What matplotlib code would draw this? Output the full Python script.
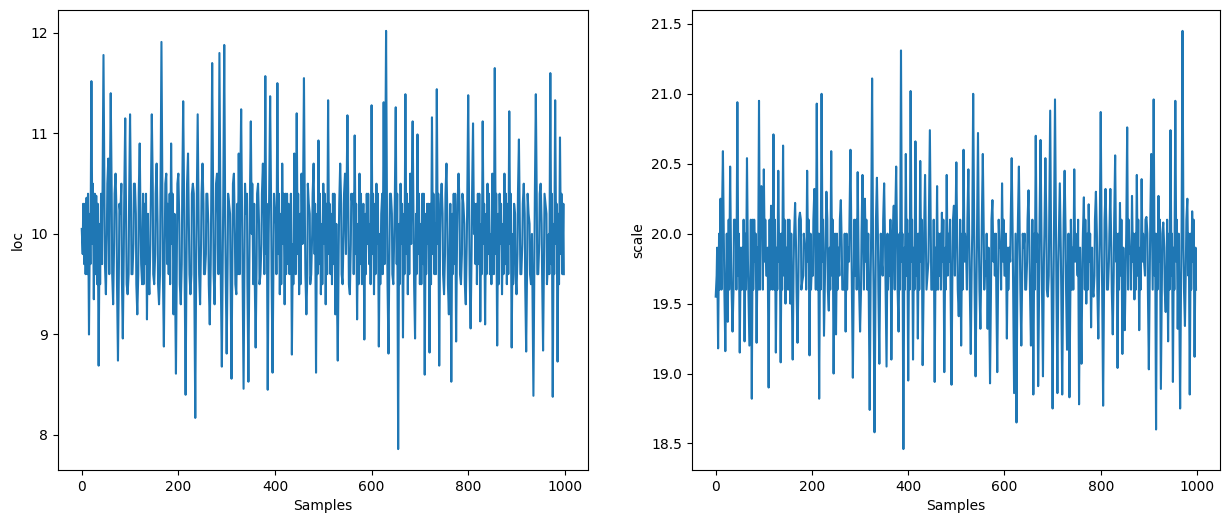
import matplotlib
matplotlib.use('Agg')
import matplotlib.pyplot as plt
import numpy as np

# trace values: peaks/troughs every 5th sample ...
loc_vals = [
    10.05, 9.7, 10.36, 9.0, 11.52, 9.35, 10.38, 8.69, 10.4, 11.78,
    9.4, 10.75, 11.4, 9.3, 10.6, 8.74, 10.2, 8.96, 11.15, 9.4,
    11.19, 9.6, 10.5, 9.2, 10.9, 9.5, 10.3, 9.15, 9.4, 11.19,
    9.5, 10.7, 9.3, 11.91, 8.88, 10.6, 9.6, 10.9, 9.2, 8.61,
    10.6, 9.3, 11.32, 8.4, 10.8, 9.4, 10.5, 8.17, 11.19, 9.3,
    10.7, 9.6, 10.4, 9.1, 11.7, 9.3, 10.6, 11.8, 8.68, 11.88,
    8.81, 10.3, 8.56, 10.6, 9.4, 10.8, 11.24, 8.46, 10.2, 8.53,
    11.12, 9.5, 8.87, 10.5, 9.6, 10.7, 11.57, 8.45, 11.37, 8.62,
    10.2, 11.5, 9.4, 10.7, 9.3, 10.4, 9.6, 8.8, 10.8, 11.2,
    9.4, 10.6, 11.55, 9.2, 10.3, 9.6, 10.7, 8.62, 10.93, 9.4,
    10.5, 9.3, 11.33, 9.6, 10.4, 9.2, 8.74, 10.7, 9.5, 10.6,
    11.18, 9.4, 10.3, 10.98, 9.15, 10.6, 9.5, 8.95, 10.4, 9.7,
    11.28, 9.4, 10.5, 8.88, 10.2, 11.31, 12.02, 8.81, 10.4, 9.5,
    11.26, 7.86, 10.5, 8.97, 11.39, 9.4, 10.6, 11.12, 8.96, 10.99,
    9.5, 10.4, 8.6, 10.3, 8.82, 11.16, 9.6, 11.44, 8.69, 10.5,
    9.4, 10.7, 9.2, 8.53, 10.4, 8.93, 10.6, 9.5, 10.3, 9.3,
    11.38, 9.06, 11.1, 9.7, 10.4, 9.13, 11.12, 9.1, 10.5, 9.6,
    10.6, 11.65, 8.89, 10.4, 9.4, 10.6, 9.5, 11.22, 8.87, 10.3,
    9.4, 10.94, 9.6, 10.5, 8.83, 10.2, 9.5, 8.39, 11.39, 9.6,
    10.5, 8.84, 10.3, 9.7, 11.6, 8.38, 11.33, 8.73, 10.96, 9.6,
]
# ... and the values in between, inside the dense core band
loc_mid = [
    9.8, 10.3, 9.6, 10.2, 9.9, 10.4, 9.5, 10.1, 9.7, 10.3,
    10.0, 9.6, 10.4, 9.9, 10.2, 9.7, 10.5, 9.8, 10.1, 9.6,
    10.3, 9.9, 10.2, 9.6, 10.0, 10.4, 9.7, 10.2, 9.9, 10.5,
    9.8, 10.1, 9.6, 10.3, 10.0, 9.7, 10.4, 9.9, 10.2, 9.8,
    10.1, 9.7, 10.3, 9.9, 10.0, 9.6, 10.4, 9.8, 10.2, 9.9,
    10.3, 9.8, 10.1, 9.7, 10.4, 9.9, 10.2, 10.3, 9.9, 10.1,
    9.7, 10.2, 9.8, 10.0, 10.3, 9.6, 10.1, 9.9, 10.4, 9.7,
    10.0, 10.3, 9.7, 10.1, 9.9, 10.2, 9.8, 10.0, 10.3, 9.9,
    10.1, 9.8, 10.2, 9.9, 10.4, 9.7, 10.0, 9.9, 10.3, 9.8,
    10.2, 9.9, 10.1, 9.6, 10.2, 10.0, 9.8, 10.2, 9.7, 10.1,
    9.9, 10.3, 9.8, 10.2, 9.7, 10.1, 9.9, 10.3, 10.0, 9.8,
    10.2, 9.9, 10.4, 9.8, 10.1, 9.7, 10.0, 10.2, 9.9, 10.1,
    9.8, 10.3, 9.9, 10.0, 10.4, 9.7, 10.1, 9.8, 10.2, 10.0,
    9.7, 10.1, 9.9, 10.2, 9.8, 10.3, 9.9, 10.0, 10.2, 9.8,
    10.1, 9.7, 10.2, 9.9, 10.3, 9.8, 10.1, 9.9, 10.0, 10.2,
    9.8, 10.1, 9.9, 10.2, 9.7, 10.0, 10.3, 9.8, 10.1, 9.9,
    10.2, 9.8, 10.0, 10.3, 9.7, 10.1, 9.9, 10.2, 9.8, 10.0,
    10.1, 9.8, 10.2, 9.9, 10.1, 9.7, 10.3, 9.9, 10.0, 10.2,
    9.8, 10.1, 9.9, 10.2, 9.7, 10.1, 10.0, 9.8, 10.3, 9.9,
    10.1, 9.8, 10.2, 10.0, 9.7, 10.1, 9.9, 10.2, 9.8, 10.3,
]
loc_mid2 = [
    10.3, 9.6, 10.4, 9.7, 10.5, 9.6, 10.3, 9.5, 10.4, 9.7,
    10.5, 10.3, 9.6, 10.4, 9.5, 10.3, 9.6, 10.4, 9.5, 10.3,
    9.6, 10.5, 9.5, 10.4, 9.7, 9.5, 10.4, 9.6, 10.3, 9.6,
    10.4, 9.5, 10.4, 9.6, 10.5, 10.3, 9.5, 10.4, 9.6, 10.5,
    9.5, 10.4, 9.6, 10.5, 9.6, 10.4, 9.5, 10.3, 9.6, 10.4,
    9.6, 10.4, 9.5, 10.3, 9.6, 10.5, 9.6, 9.5, 10.4, 9.6,
    10.4, 9.6, 10.5, 9.5, 9.6, 10.4, 9.6, 10.5, 9.5, 10.3,
    10.5, 9.6, 10.4, 9.5, 10.4, 9.6, 10.3, 10.4, 9.6, 10.4,
    9.6, 10.4, 9.5, 10.4, 9.6, 10.3, 10.4, 9.5, 9.6, 10.4,
    9.5, 10.3, 9.6, 10.5, 9.5, 10.4, 10.3, 9.6, 10.4, 9.5,
    10.4, 9.6, 10.3, 9.5, 10.4, 9.5, 10.3, 9.6, 10.4, 10.3,
    9.5, 10.4, 9.6, 10.3, 9.5, 10.4, 10.3, 9.6, 10.4, 9.5,
    10.4, 9.6, 10.4, 9.5, 9.6, 10.4, 9.5, 10.4, 9.6, 10.3,
    10.4, 9.5, 10.3, 9.6, 10.4, 9.6, 10.4, 9.5, 9.6, 10.4,
    9.5, 10.4, 9.6, 10.3, 9.5, 10.4, 9.6, 10.4, 10.3, 9.6,
    10.4, 9.5, 10.3, 9.6, 10.4, 10.3, 9.6, 10.4, 9.5, 10.3,
    9.6, 10.4, 10.3, 9.5, 10.4, 9.6, 10.3, 9.6, 10.4, 9.5,
    9.6, 10.4, 9.5, 10.3, 9.6, 10.4, 9.6, 10.4, 9.5, 9.6,
    10.4, 9.6, 10.3, 9.5, 10.4, 9.6, 9.5, 10.4, 9.6, 10.4,
    9.6, 10.4, 9.5, 9.6, 10.4, 9.6, 10.3, 9.5, 10.4, 9.6,
]

scale_vals = [
    19.55, 19.18, 20.25, 20.59, 19.16, 19.37, 20.48, 19.3, 20.1, 20.94,
    19.15, 19.9, 19.23, 20.54, 19.2, 18.82, 20.1, 19.22, 20.95, 20.34,
    20.46, 19.7, 18.9, 20.2, 20.71, 19.15, 20.45, 19.08, 20.63, 19.5,
    20.1, 19.5, 19.1, 20.22, 19.22, 20.15, 19.66, 19.9, 20.45, 19.13,
    19.8, 20.32, 20.93, 18.82, 21.0, 19.27, 20.3, 19.45, 20.59, 19.0,
    19.28, 19.9, 20.24, 19.6, 19.3, 19.9, 20.6, 18.97, 19.7, 20.44,
    19.3, 20.42, 20.25, 19.6, 18.74, 21.11, 18.58, 20.4, 19.07, 19.8,
    20.36, 19.05, 19.9, 19.1, 20.2, 20.48, 19.3, 21.31, 18.46, 20.57,
    18.95, 21.02, 19.1, 20.66, 19.25, 20.52, 19.06, 20.42, 19.7, 20.74,
    19.6, 18.94, 20.34, 19.7, 20.15, 19.01, 20.42, 19.8, 18.92, 20.2,
    20.51, 19.41, 19.2, 20.6, 19.9, 20.46, 19.14, 21.0, 18.98, 20.72,
    19.32, 20.57, 19.8, 19.32, 18.93, 20.24, 19.7, 19.01, 19.9, 20.36,
    19.7, 19.25, 19.9, 20.54, 18.86, 18.65, 20.48, 19.2, 19.9, 19.6,
    20.31, 19.2, 18.85, 20.7, 18.91, 20.67, 18.98, 20.54, 19.55, 20.88,
    18.75, 20.96, 18.86, 20.36, 18.85, 20.45, 19.17, 18.83, 19.6, 20.46,
    19.9, 18.78, 19.07, 20.26, 19.5, 20.21, 19.33, 19.55, 20.3, 19.25,
    20.87, 18.77, 20.32, 19.6, 20.32, 19.28, 20.56, 19.04, 20.22, 19.14,
    19.31, 20.76, 19.86, 20.27, 19.53, 20.42, 19.31, 20.39, 19.8, 20.12,
    19.03, 20.57, 20.96, 18.6, 20.27, 18.89, 20.08, 19.44, 19.23, 20.74,
    18.94, 20.95, 19.32, 18.75, 21.45, 19.34, 20.25, 18.85, 20.16, 19.12,
]
scale_mid = [
    19.7, 20.0, 19.6, 19.9, 19.7, 20.1, 19.8, 19.6, 20.0, 19.7,
    19.9, 19.6, 20.0, 19.8, 19.7, 20.1, 19.8, 19.9, 19.6, 20.0,
    19.8, 19.7, 20.1, 19.9, 19.6, 19.9, 19.8, 20.0, 19.7, 19.9,
    19.6, 20.0, 19.8, 19.9, 19.7, 20.1, 19.7, 19.9, 19.8, 20.0,
    19.7, 19.9, 19.6, 20.0, 19.8, 19.7, 20.1, 19.9, 19.7, 19.8,
    20.0, 19.7, 19.9, 19.6, 20.0, 19.8, 19.9, 19.7, 20.1, 19.8,
    19.6, 19.9, 19.8, 20.0, 19.7, 19.9, 19.6, 20.0, 19.8, 19.7,
    19.9, 20.0, 19.7, 19.8, 19.6, 19.9, 20.0, 19.8, 19.9, 19.7,
    20.0, 19.8, 19.9, 19.7, 20.0, 19.8, 19.6, 19.9, 19.8, 20.0,
    19.7, 19.9, 19.6, 20.0, 19.8, 19.9, 19.7, 20.1, 19.8, 19.7,
    19.9, 19.7, 20.0, 19.8, 19.6, 19.9, 19.8, 20.0, 19.7, 19.9,
    19.8, 20.0, 19.7, 19.9, 19.6, 19.8, 20.0, 19.7, 19.9, 19.8,
    19.7, 19.9, 19.8, 20.0, 19.6, 19.8, 19.9, 19.7, 20.0, 19.8,
    19.9, 19.7, 20.0, 19.8, 19.6, 19.9, 19.8, 20.1, 19.7, 19.9,
    19.6, 20.0, 19.8, 19.9, 19.7, 20.0, 19.8, 19.6, 19.9, 19.8,
    19.7, 19.9, 19.8, 19.6, 20.0, 19.8, 19.9, 19.7, 20.0, 19.8,
    19.9, 19.7, 20.0, 19.8, 19.9, 19.7, 19.8, 20.0, 19.7, 19.9,
    19.8, 19.6, 19.9, 19.8, 20.0, 19.7, 19.9, 19.8, 19.7, 20.0,
    19.8, 19.9, 19.7, 20.0, 19.8, 19.6, 19.9, 19.8, 20.0, 19.7,
    19.9, 19.8, 20.0, 19.7, 19.9, 19.8, 19.7, 20.0, 19.8, 19.9,
]
scale_mid2 = [
    19.9, 19.6, 20.1, 19.6, 20.0, 19.6, 19.6, 20.1, 19.6, 20.0,
    19.6, 20.1, 19.6, 19.6, 20.1, 19.6, 20.0, 19.6, 20.1, 19.6,
    20.1, 19.9, 19.6, 19.6, 20.1, 19.6, 20.0, 19.6, 20.1, 19.6,
    20.1, 19.6, 20.0, 19.6, 20.1, 19.6, 20.0, 19.6, 20.1, 19.6,
    20.1, 19.6, 20.0, 19.6, 20.1, 19.9, 19.6, 19.6, 20.1, 20.0,
    19.6, 20.1, 19.6, 20.0, 19.6, 20.1, 19.6, 20.1, 19.6, 19.6,
    20.0, 19.6, 20.1, 19.6, 20.0, 19.6, 20.1, 19.6, 20.0, 20.1,
    19.6, 19.6, 20.1, 20.0, 20.1, 19.6, 19.6, 20.0, 19.6, 20.1,
    19.6, 20.1, 19.6, 20.0, 19.6, 20.1, 20.0, 19.6, 20.1, 19.6,
    20.1, 19.6, 20.0, 19.6, 20.1, 19.6, 20.0, 19.6, 20.1, 20.0,
    19.6, 20.1, 19.6, 20.0, 20.1, 19.6, 20.0, 19.6, 20.1, 19.6,
    20.1, 19.6, 20.0, 19.6, 20.1, 20.0, 19.6, 20.1, 19.6, 20.1,
    20.0, 19.6, 20.1, 19.6, 20.0, 20.1, 19.6, 20.0, 19.6, 20.1,
    19.6, 20.1, 19.6, 20.0, 20.1, 19.6, 20.0, 19.6, 20.1, 19.6,
    20.1, 19.6, 20.0, 19.6, 20.1, 19.6, 20.0, 20.1, 19.6, 20.0,
    20.1, 19.6, 20.0, 20.1, 19.6, 20.0, 19.6, 20.1, 19.6, 20.0,
    19.6, 20.1, 19.6, 20.0, 19.6, 20.1, 20.0, 19.6, 20.1, 19.6,
    20.0, 20.1, 19.6, 20.0, 19.6, 20.1, 19.6, 20.0, 20.1, 19.6,
    20.1, 19.6, 20.0, 19.6, 20.1, 20.0, 19.6, 20.1, 19.6, 20.0,
    19.6, 20.1, 19.6, 20.0, 19.6, 20.1, 20.0, 19.6, 20.1, 19.6,
]

samples = np.arange(0, 1000, 5)
x = np.column_stack([samples, samples + 2, samples + 3]).ravel()
loc = np.column_stack([loc_vals, loc_mid, loc_mid2]).ravel()
scale = np.column_stack([scale_vals, scale_mid, scale_mid2]).ravel()

fig = plt.figure(figsize=(12.29, 5.25), dpi=100)
ax1 = fig.add_axes([0.0469, 0.1048, 0.4315, 0.8762])
ax2 = fig.add_axes([0.5628, 0.1048, 0.4299, 0.8762])

ax1.plot(x, loc)
ax1.set_xlabel('Samples')
ax1.set_ylabel('loc')

ax2.plot(x, scale)
ax2.set_xlabel('Samples')
ax2.set_ylabel('scale')

fig.savefig('out.png', dpi=100)
